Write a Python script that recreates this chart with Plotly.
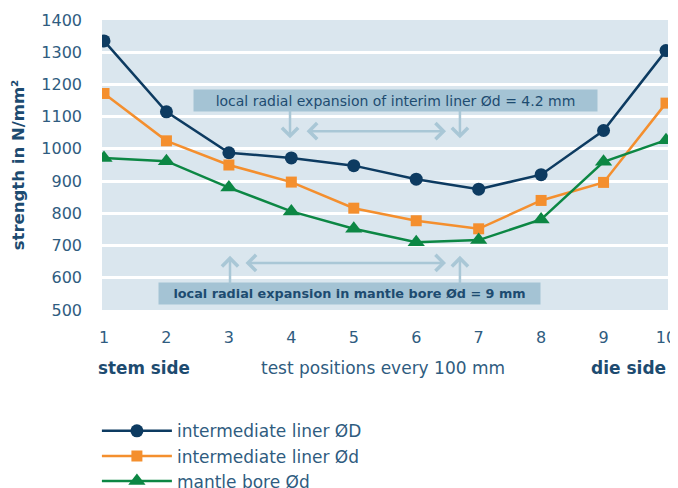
import plotly.graph_objects as go

positions = [1, 2, 3, 4, 5, 6, 7, 8, 9, 10]
liner_OD = [1335, 1115, 988, 972, 948, 906, 875, 920, 1057, 1305]
liner_od = [1172, 1025, 950, 897, 816, 777, 752, 840, 896, 1142]
mantle_od = [972, 962, 880, 806, 752, 710, 717, 781, 960, 1027]
y_ticks = [500, 600, 700, 800, 900, 1000, 1100, 1200, 1300, 1400]

NAVY = "#0d3b61"
ORANGE = "#f48f2e"
GREEN = "#0c8744"
TXT = "#1d4b70"
TICK = "#2f5c80"
BOX = "#a4c3d4"
ARROW = "#a9c7d6"
FONT = "DejaVu Sans"

fig = go.Figure()
fig.add_trace(go.Scatter(x=positions, y=liner_OD, mode="lines+markers",
                         name="intermediate liner ØD",
                         line=dict(color=NAVY, width=2.5),
                         marker=dict(symbol="circle", size=13, color=NAVY)))
fig.add_trace(go.Scatter(x=positions, y=liner_od, mode="lines+markers",
                         name="intermediate liner Ød",
                         line=dict(color=ORANGE, width=2.5),
                         marker=dict(symbol="square", size=11, color=ORANGE)))
fig.add_trace(go.Scatter(x=positions, y=mantle_od, mode="lines+markers",
                         name="mantle bore Ød",
                         line=dict(color=GREEN, width=2.5),
                         marker=dict(symbol="triangle-up", size=15, color=GREEN)))

ann = []
ann.append(dict(x=5.668, y=1150, xref="x", yref="y", showarrow=False,
                text="local radial expansion of interim liner Ød = 4.2 mm",
                width=401, height=19, bgcolor=BOX,
                font=dict(family=FONT, size=14, color=TXT)))
ann.append(dict(x=4.932, y=550, xref="x", yref="y", showarrow=False,
                text="<b>local radial expansion in mantle bore Ød = 9 mm</b>",
                width=379, height=19, bgcolor=BOX,
                font=dict(family=FONT, size=12.8, color=TXT)))


def arrow(x0, y0, x1, y1, both=False):
    d = dict(x=x1, y=y1, ax=x0, ay=y0, xref="x", yref="y", axref="x", ayref="y",
             text="", showarrow=True, arrowhead=4, arrowsize=1.25, arrowwidth=2.5,
             arrowcolor=ARROW)
    if both:
        d.update(arrowside="end+start", startarrowhead=4, startarrowsize=1.25)
    return d

ann.append(arrow(3.979, 1124, 3.979, 1033))
ann.append(arrow(6.70, 1124, 6.70, 1033))
ann.append(arrow(4.22, 1055, 6.477, 1055, both=True))
ann.append(arrow(3.018, 577, 3.018, 668))
ann.append(arrow(6.70, 577, 6.70, 668))
ann.append(arrow(3.242, 646, 6.477, 646, both=True))

ann.append(dict(x=-0.011, y=-0.2, xref="paper", yref="paper", xanchor="left", yanchor="middle",
                showarrow=False, text="<b>stem side</b>",
                font=dict(family=FONT, size=16.8, color=TXT)))
ann.append(dict(x=0.496, y=-0.2, xref="paper", yref="paper", xanchor="center", yanchor="middle",
                showarrow=False, text="test positions every 100 mm",
                font=dict(family=FONT, size=17, color=TICK)))
ann.append(dict(x=1.0, y=-0.2, xref="paper", yref="paper", xanchor="right", yanchor="middle",
                showarrow=False, text="<b>die side</b>",
                font=dict(family=FONT, size=17, color=TXT)))
ann.append(dict(x=-0.148, y=0.5, xref="paper", yref="paper", xanchor="center", yanchor="middle",
                showarrow=False, textangle=-90, text="<b>strength in N/mm²</b>",
                font=dict(family=FONT, size=16.5, color=TXT)))

# The page adds an 8px body margin, so the figure is 8px smaller and margins shifted.
fig.update_layout(
    width=670, height=480,
    margin=dict(l=94, r=10, t=12, b=178, autoexpand=False),
    paper_bgcolor="white", plot_bgcolor="#dae6ee",
    font=dict(family=FONT, color=TICK),
    showlegend=True,
    legend=dict(x=-0.009, y=-0.356, xanchor="left", yanchor="top",
                font=dict(family=FONT, size=17, color=TICK),
                bgcolor="rgba(0,0,0,0)", tracegroupgap=0, itemwidth=70),
    annotations=ann,
)
fig.update_xaxes(range=[0.968, 10.032], tickvals=positions, showgrid=False, zeroline=False,
                 showline=False, ticks="", ticklabelstandoff=16, automargin=False,
                 tickfont=dict(family=FONT, size=16, color=TICK))
fig.update_yaxes(range=[500, 1400], tickvals=y_ticks, showgrid=True, gridcolor="white",
                 gridwidth=2.5, zeroline=False, showline=False, ticks="", ticklabelstandoff=19,
                 automargin=False,
                 tickfont=dict(family=FONT, size=16, color=TICK))

fig.write_html("out.html")
